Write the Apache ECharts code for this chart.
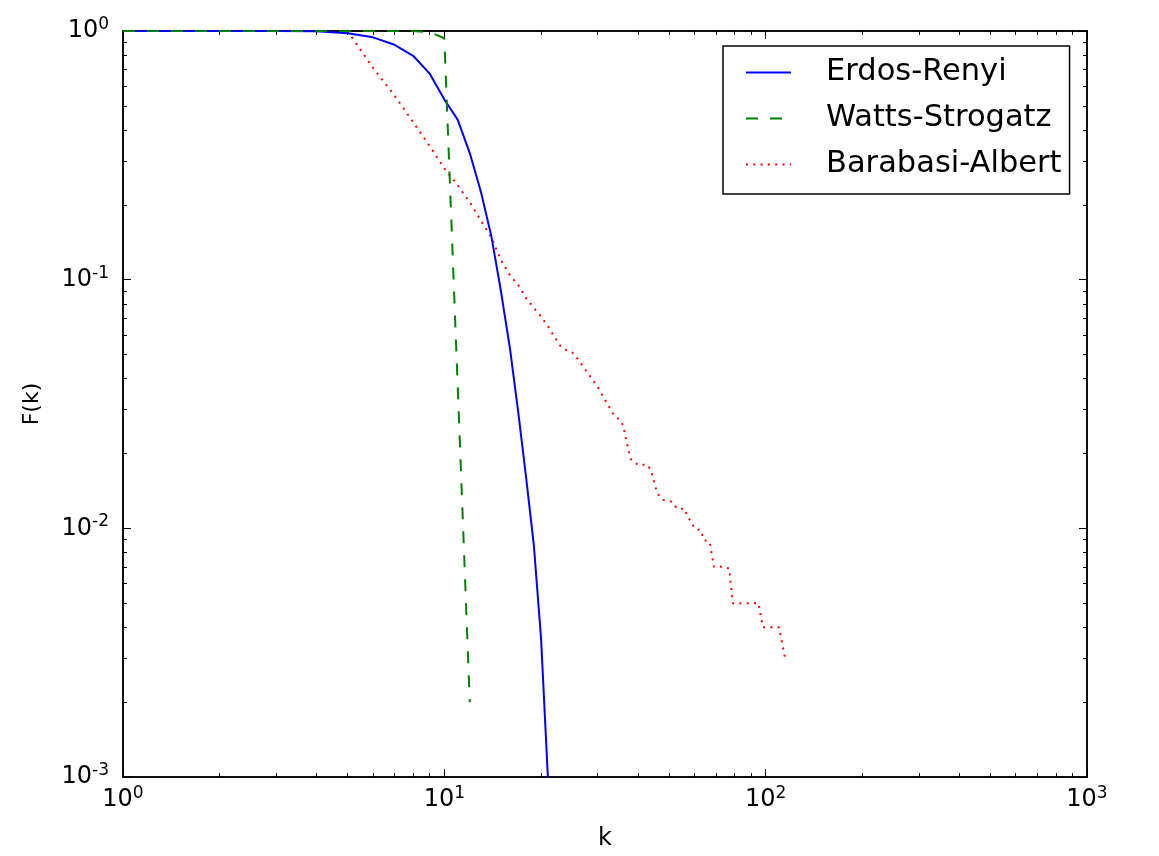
<!DOCTYPE html>
<html><head><meta charset="utf-8">
<script src="https://cdn.jsdelivr.net/npm/echarts@6/dist/echarts.min.js"></script>
<style>html,body{margin:0;padding:0;background:#fff}#c{width:1159px;height:856px}</style>
</head><body><div id="c"></div>
<script>
const seriesNames = ['Erdos-Renyi', 'Watts-Strogatz', 'Barabasi-Albert'];

const kER = [1,2,3,4,5,6,7,8,9,10,11,12,13,14,15,16,17,18,19,20,21];
const fER = [1,1,1,0.997,0.98,0.943,0.88,0.795,0.674,0.53,0.44,0.323,0.225,0.15,0.09,0.053,0.029,0.0157,0.0085,0.0036,0.001];

const kWS = [1,2,3,4,5,6,7,8,9,10,11,12];
const fWS = [1,1,1,1,1,1,1,1,0.99,0.935,0.038,0.002];

const kBA = [5,6,7,8,9,10,11,12,13,14,15,16,17,18,19,20,21,22,23,24,25,26,28,30,32,34,35,36,37,38,40,43,44,46,48,51,53,56,57,59,60,63,64,67,69,73,77,79,95,98,110,115];
const fBA = [1,0.71,0.55,0.43,0.345,0.28,0.24,0.205,0.173,0.148,0.12,0.104,0.095,0.084,0.077,0.071,0.065,0.059,0.054,0.052,0.051,0.048,0.042,0.037,0.032,0.028,0.0275,0.026,0.022,0.019,0.018,0.018,0.017,0.0138,0.013,0.0128,0.012,0.012,0.0112,0.0105,0.010,0.0098,0.009,0.0088,0.007,0.007,0.0069,0.005,0.005,0.004,0.004,0.003];

const xMajor = [1, 10, 100, 1000];
const yMajor = [0.001, 0.01, 0.1, 1];
const minorMult = [2,3,4,5,6,7,8,9];

function minorOf(majors) {
  const out = [];
  for (let i = 0; i < majors.length - 1; i++) minorMult.forEach(f => out.push(+(majors[i] * f).toPrecision(6)));
  return out;
}
function zip(a, b) { return a.map((v, i) => [v, b[i]]); }

const FONT = 'DejaVu Sans';
const labelFmt = v => '{b|10}{s|' + Math.round(Math.log10(v)) + '}';
const rich = {
  b: { fontSize: 24, fontFamily: FONT, color: '#000', lineHeight: 30, verticalAlign: 'middle' },
  s: { fontSize: 17, fontFamily: FONT, color: '#000', lineHeight: 16, verticalAlign: 'top' }
};
const axLine = { show: true, lineStyle: { color: '#000', width: 1.5 } };

function mkX(pos, major, labels) {
  return {
    type: 'log', logBase: 10, min: 1, max: 1000, position: pos, gridIndex: 0,
    axisLine: axLine, splitLine: { show: false },
    axisTick: { show: true, inside: true, length: major ? 8 : 4, lineStyle: { color: '#000', width: 1 },
      customValues: major ? xMajor : minorOf(xMajor) },
    axisLabel: labels ? { show: true, customValues: xMajor, formatter: labelFmt, rich: rich, margin: 8 } : { show: false },
    name: labels ? 'k' : '', nameLocation: 'middle', nameGap: 50,
    nameTextStyle: { fontFamily: FONT, fontSize: 24, color: '#000' }
  };
}
function mkY(pos, major, labels) {
  return {
    type: 'log', logBase: 10, min: 0.001, max: 1, position: pos, gridIndex: 0,
    axisLine: axLine, splitLine: { show: false },
    axisTick: { show: true, inside: true, length: major ? 8 : 4, lineStyle: { color: '#000', width: 1 },
      customValues: major ? yMajor : minorOf(yMajor) },
    axisLabel: labels ? { show: true, customValues: yMajor, formatter: labelFmt, rich: rich, margin: 14 } : { show: false },
    name: labels ? 'F(k)' : '', nameLocation: 'middle', nameGap: 80, nameRotate: 90,
    nameTextStyle: { fontFamily: FONT, fontSize: 22, color: '#000' }
  };
}

const chart = echarts.init(document.getElementById('c'), null, { renderer: 'canvas' });
chart.setOption({
  animation: false,
  backgroundColor: '#fff',
  grid: { left: 123, top: 31, right: 72, bottom: 78, containLabel: false },
  xAxis: [mkX('bottom', true, true), mkX('bottom', false, false), mkX('top', true, false), mkX('top', false, false)],
  yAxis: [mkY('left', true, true), mkY('left', false, false), mkY('right', true, false), mkY('right', false, false)],
  legend: {
    orient: 'vertical', left: 723, top: 46,
    padding: [11, 8, 14, 22],
    borderColor: '#000', borderWidth: 1.5, borderRadius: 0, backgroundColor: '#fff',
    itemWidth: 45, itemHeight: 14, itemGap: 15,
    itemStyle: { opacity: 0 },
    textStyle: { fontFamily: FONT, fontSize: 30.5, color: '#000', lineHeight: 30, padding: [0, 0, 0, 30] },
    data: seriesNames
  },
  series: [
    { name: seriesNames[0], type: 'line', data: zip(kER, fER), showSymbol: false, symbol: 'none',
      lineStyle: { color: '#0000ff', width: 2 }, itemStyle: { color: '#0000ff' }, z: 3 },
    { name: seriesNames[1], type: 'line', data: zip(kWS, fWS), showSymbol: false, symbol: 'none',
      lineStyle: { color: '#008000', width: 2, type: [12, 12] }, itemStyle: { color: '#008000' }, z: 4 },
    { name: seriesNames[2], type: 'line', data: zip(kBA, fBA), showSymbol: false, symbol: 'none',
      lineStyle: { color: '#ff0000', width: 2, type: [2, 5.3], cap: 'butt' }, itemStyle: { color: '#ff0000' }, z: 2 }
  ]
});
</script></body></html>
